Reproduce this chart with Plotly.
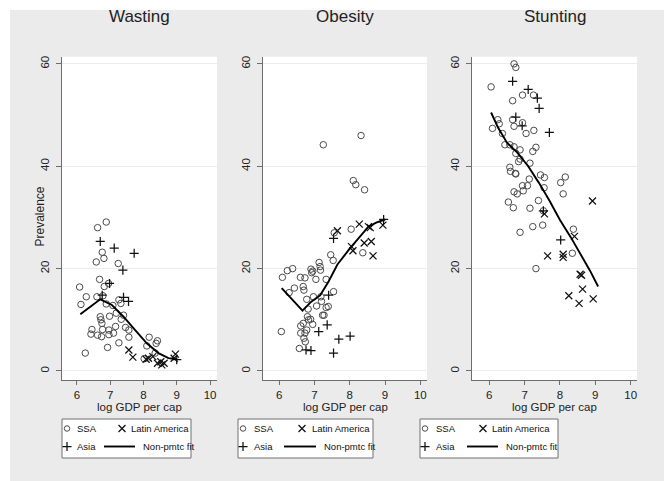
import plotly.graph_objects as go

# ---------------- data ----------------
# Wasting
wast_ssa_x = [6.08, 6.12, 6.28, 6.25, 6.45, 6.42, 6.62, 6.88, 6.58, 6.76, 6.81, 6.68, 6.82, 6.95,
              6.60, 6.78, 6.88, 6.70, 6.72, 6.75, 6.77, 6.62, 6.74, 6.98, 6.96, 6.96, 7.10, 7.16,
              7.08, 7.18, 7.24, 7.26, 7.32, 7.33, 7.40, 7.46, 7.56, 7.56, 7.26, 6.92, 8.17, 8.10,
              8.38, 8.42, 8.02, 8.35]
wast_ssa_y = [16.4, 13.0, 14.5, 3.5, 8.1, 7.2, 28.0, 29.1, 21.3, 23.2, 22.0, 17.9, 16.5, 17.1,
              14.5, 14.7, 13.1, 10.6, 10.0, 9.3, 8.1, 7.0, 6.7, 10.7, 8.0, 7.1, 7.4, 8.7,
              12.8, 11.3, 21.0, 13.9, 13.2, 10.1, 10.9, 8.5, 8.0, 6.6, 5.5, 4.6, 6.6, 4.9,
              5.4, 5.9, 2.4, 3.5]
wast_asia_x = [6.70, 7.12, 7.72, 7.38, 6.98, 7.40, 7.55, 6.76, 9.00]
wast_asia_y = [25.3, 24.0, 23.0, 19.7, 17.1, 14.4, 13.6, 14.8, 2.2]
wast_lat_x = [7.56, 7.68, 8.08, 8.15, 8.28, 8.42, 8.52, 8.62, 8.55, 8.96, 8.92]
wast_lat_y = [4.1, 2.7, 2.3, 2.5, 2.8, 1.5, 1.8, 1.5, 1.2, 3.3, 2.5]
wast_fit_x = [6.10, 6.40, 6.70, 7.05, 7.40, 7.75, 8.10, 8.45, 8.75, 9.00]
wast_fit_y = [11.1, 12.5, 14.0, 12.9, 10.6, 8.0, 5.4, 3.5, 2.5, 2.3]

# Obesity
obes_ssa_x = [7.25, 8.32, 8.10, 8.17, 8.42, 8.04, 8.37, 7.56, 6.09, 6.23, 6.38, 6.28, 6.43, 6.60,
              6.73, 6.68, 6.70, 6.90, 6.92, 6.95, 7.04, 7.13, 7.16, 7.17, 7.46, 7.53, 7.54, 7.33,
              6.78, 6.97, 7.18, 7.06, 7.20, 7.33, 7.39, 7.23, 7.27, 6.80, 6.83, 6.89, 6.82, 6.61,
              6.68, 6.95, 6.78, 6.73, 6.61, 6.70, 6.74, 6.57, 6.06]
obes_ssa_y = [44.2, 46.0, 37.2, 36.4, 35.4, 27.7, 23.1, 27.0, 18.3, 19.6, 20.0, 15.3, 16.2, 18.3,
              18.2, 16.5, 15.8, 19.9, 19.2, 19.5, 17.9, 21.2, 20.4, 19.7, 22.7, 21.6, 15.5, 17.9,
              14.0, 14.5, 14.5, 12.7, 13.6, 12.4, 12.6, 10.9, 10.9, 10.6, 10.0, 10.1, 12.1, 8.8,
              9.3, 9.1, 8.0, 7.4, 7.4, 6.4, 5.7, 4.4, 7.7]
obes_asia_x = [6.76, 6.90, 7.12, 7.36, 7.69, 8.01, 7.54, 7.40, 7.54, 8.96]
obes_asia_y = [4.1, 4.0, 7.7, 9.0, 6.2, 6.8, 3.5, 14.8, 25.9, 29.6]
obes_lat_x = [7.65, 8.27, 8.05, 8.09, 8.41, 8.61, 8.66, 8.58, 8.94, 8.53]
obes_lat_y = [27.4, 28.7, 24.3, 23.5, 25.0, 25.3, 22.5, 28.0, 28.5, 28.2]
obes_fit_x = [6.07, 6.36, 6.66, 6.90, 7.16, 7.40, 7.65, 8.01, 8.29, 8.53, 8.75, 9.00]
obes_fit_y = [16.2, 14.0, 11.8, 13.5, 14.8, 17.5, 20.8, 24.0, 26.3, 28.2, 29.0, 29.6]

# Stunting
stun_ssa_x = [6.05, 6.09, 6.24, 6.28, 6.37, 6.44, 6.58, 6.70, 6.75, 6.66, 6.94, 7.25, 6.66, 6.70,
              6.94, 7.04, 7.26, 6.70, 6.75, 6.87, 6.87, 6.83, 7.23, 7.32, 7.15, 6.58, 6.60, 6.74,
              6.75, 6.94, 7.08, 7.13, 6.96, 6.70, 6.79, 6.54, 6.68, 7.15, 7.39, 7.45, 7.56, 7.55,
              8.02, 8.15, 8.09, 6.87, 7.23, 7.51, 7.32, 8.38, 8.35, 7.53]
stun_ssa_y = [55.5, 47.4, 49.1, 48.3, 46.4, 44.2, 44.2, 60.0, 59.3, 52.8, 53.9, 53.9, 49.1, 47.8,
              48.5, 46.4, 47.0, 43.8, 42.5, 43.2, 41.4, 40.9, 42.9, 43.7, 40.6, 39.8, 39.0, 38.6,
              38.5, 36.2, 36.2, 37.5, 35.2, 35.0, 34.6, 33.0, 31.9, 31.8, 33.3, 38.3, 37.8, 35.8,
              36.8, 37.9, 34.6, 27.1, 28.2, 28.5, 20.0, 27.7, 23.0, 31.3]
stun_asia_x = [6.66, 7.10, 7.36, 7.41, 7.70, 6.75, 6.93, 7.53, 8.02]
stun_asia_y = [56.6, 55.0, 53.3, 51.3, 46.6, 49.6, 47.9, 31.3, 25.6]
stun_lat_x = [8.92, 7.56, 7.65, 8.09, 8.09, 8.41, 8.57, 8.61, 8.64, 8.25, 8.54, 8.94]
stun_lat_y = [33.2, 30.7, 22.5, 22.8, 22.2, 26.3, 18.9, 18.7, 16.0, 14.7, 13.2, 14.1]
stun_fit_x = [6.05, 6.25, 6.50, 6.80, 7.10, 7.40, 7.70, 8.00, 8.30, 8.60, 8.85, 9.08]
stun_fit_y = [50.5, 47.5, 44.6, 42.6, 40.0, 36.8, 33.3, 29.5, 26.2, 22.6, 19.6, 16.5]

titles = ["Wasting", "Obesity", "Stunting"]
y_ticks = [0, 20, 40, 60]
x_ticks = [6, 7, 8, 9, 10]
legend_labels = ["SSA", "Latin America", "Asia", "Non-pmtc fit"]

panels = [
    (wast_ssa_x, wast_ssa_y, wast_lat_x, wast_lat_y, wast_asia_x, wast_asia_y, wast_fit_x, wast_fit_y),
    (obes_ssa_x, obes_ssa_y, obes_lat_x, obes_lat_y, obes_asia_x, obes_asia_y, obes_fit_x, obes_fit_y),
    (stun_ssa_x, stun_ssa_y, stun_lat_x, stun_lat_y, stun_asia_x, stun_asia_y, stun_fit_x, stun_fit_y),
]

# ---------------- layout geometry (pixels) ----------------
W, H = 664, 481
px_left = [62, 263, 472]
px_right = [217, 427, 637]
x_ranges = [[5.55, 10.21], [5.54, 10.19], [5.51, 10.18]]
y_bottom, y_top = 380, 56.7
y_range = [-1.76, 61.4]

FONT = "Liberation Sans, Arial, sans-serif"
TXT = "#222222"
AX = "#6e6e6e"
MK = "#4a4a4a"

CIRC = dict(symbol="circle-open", size=6.5, color=MK, line=dict(width=1, color=MK))
XMK = dict(symbol="x-thin-open", size=7, color="#111", line=dict(width=1.25, color="#111"))
PMK = dict(symbol="cross-thin-open", size=6.5, color="#111", line=dict(width=1.25, color="#111"))

fig = go.Figure()
layout = dict(
    width=W, height=H,
    margin=dict(l=0, r=0, t=0, b=0),
    paper_bgcolor="white",
    plot_bgcolor="rgba(0,0,0,0)",
    showlegend=False,
    font=dict(family=FONT, color=TXT, size=12),
)

# grey graph region, then white plot regions on top of it
shapes = [dict(type="rect", xref="paper", yref="paper",
               x0=10 / W, x1=1.0, y0=0.0, y1=1 - 10 / H,
               fillcolor="#ebebeb", line=dict(width=0), layer="below")]
annotations = []


def px_x(p):
    return p / W


def px_y(p):
    return 1 - p / H


for i, (sx, sy, lx, ly, ax_, ay, fx, fy) in enumerate(panels):
    n = "" if i == 0 else str(i + 1)
    xa, ya = "x" + n, "y" + n
    fig.add_trace(go.Scatter(x=sx, y=sy, mode="markers", xaxis=xa, yaxis=ya, name="SSA", marker=CIRC))
    fig.add_trace(go.Scatter(x=lx, y=ly, mode="markers", xaxis=xa, yaxis=ya, name="Latin America", marker=XMK))
    fig.add_trace(go.Scatter(x=ax_, y=ay, mode="markers", xaxis=xa, yaxis=ya, name="Asia", marker=PMK))
    fig.add_trace(go.Scatter(x=fx, y=fy, mode="lines", xaxis=xa, yaxis=ya, name="Non-pmtc fit",
                             line=dict(color="#000", width=1.9)))

    layout["xaxis" + n] = dict(
        domain=[px_x(px_left[i]), px_x(px_right[i])], range=x_ranges[i], anchor=ya,
        tickvals=x_ticks, ticks="outside", ticklen=4, tickcolor=AX, showline=True,
        linecolor=AX, linewidth=1, showgrid=False, zeroline=False,
        tickfont=dict(size=11.5, color=TXT),
    )
    layout["yaxis" + n] = dict(
        domain=[px_y(y_bottom), px_y(y_top)], range=y_range, anchor=xa,
        tickvals=y_ticks, ticks="outside", ticklen=5, tickcolor=AX, showline=True,
        linecolor=AX, linewidth=1, showgrid=True, gridcolor="#ececec", gridwidth=1,
        zeroline=False, tickangle=-90, tickfont=dict(size=11.5, color=TXT),
        ticklabelstandoff=2,
    )
    shapes.append(dict(type="rect", xref="paper", yref="paper",
                       x0=px_x(px_left[i]), x1=px_x(px_right[i]), y0=px_y(y_bottom), y1=px_y(y_top),
                       fillcolor="white", line=dict(width=0), layer="below"))

    cx = (px_left[i] + px_right[i]) / 2
    annotations.append(dict(text=titles[i], x=px_x(cx), y=px_y(17), xref="paper", yref="paper",
                            showarrow=False, font=dict(size=17, color=TXT), xanchor="center", yanchor="middle"))
    annotations.append(dict(text="log GDP per cap", x=px_x(cx), y=px_y(407), xref="paper", yref="paper",
                            showarrow=False, font=dict(size=11.5, color=TXT), xanchor="center", yanchor="middle"))

annotations.append(dict(text="Prevalence", x=px_x(39.5), y=px_y(217), xref="paper", yref="paper",
                        showarrow=False, textangle=-90, font=dict(size=12, color=TXT),
                        xanchor="center", yanchor="middle"))

# ---------------- per-panel legend boxes ----------------
leg = [
    dict(b0=62, b1=191, k1=67, t1=75, k2=122, t2=129, l0=104, l1=135, t3=141),
    dict(b0=238, b1=373, k1=243, t1=252, k2=302, t2=310, l0=284, l1=316, t3=322),
    dict(b0=420, b1=558, k1=425, t1=434, k2=483, t2=490, l0=467, l1=498, t3=504),
]
row1, row2 = 428.5, 446.5
LFONT = dict(family=FONT, size=9.5, color="#111")

key_circ_x, key_circ_y = [], []
key_x_x, key_x_y = [], []
key_p_x, key_p_y = [], []
for g in leg:
    shapes.append(dict(type="rect", xref="paper", yref="paper",
                       x0=px_x(g["b0"]), x1=px_x(g["b1"]), y0=px_y(458), y1=px_y(419),
                       fillcolor="white", line=dict(color="#707070", width=1), layer="below"))
    shapes.append(dict(type="line", xref="paper", yref="paper",
                       x0=px_x(g["l0"]), x1=px_x(g["l1"]), y0=px_y(row2), y1=px_y(row2),
                       line=dict(color="#000", width=1.9)))
    key_circ_x.append(g["k1"]); key_circ_y.append(row1)
    key_p_x.append(g["k1"]); key_p_y.append(row2)
    key_x_x.append(g["k2"]); key_x_y.append(row1)
    for txt, x, y in [(legend_labels[0], g["t1"], row1), (legend_labels[1], g["t2"], row1),
                      (legend_labels[2], g["t1"], row2), (legend_labels[3], g["t3"], row2)]:
        annotations.append(dict(text=txt, x=px_x(x), y=px_y(y), xref="paper", yref="paper",
                                showarrow=False, font=LFONT, xanchor="left", yanchor="middle"))

# overlay axes in pixel units for the legend keys
layout["xaxis4"] = dict(domain=[0, 1], range=[0, W], visible=False, anchor="y4", fixedrange=True)
layout["yaxis4"] = dict(domain=[0, 1], range=[H, 0], visible=False, anchor="x4", fixedrange=True)
fig.add_trace(go.Scatter(x=key_circ_x, y=key_circ_y, mode="markers", xaxis="x4", yaxis="y4",
                         marker=dict(CIRC, size=5.5), hoverinfo="skip"))
fig.add_trace(go.Scatter(x=key_x_x, y=key_x_y, mode="markers", xaxis="x4", yaxis="y4",
                         marker=XMK, hoverinfo="skip"))
fig.add_trace(go.Scatter(x=key_p_x, y=key_p_y, mode="markers", xaxis="x4", yaxis="y4",
                         marker=PMK, hoverinfo="skip"))

layout["shapes"] = shapes
layout["annotations"] = annotations
fig.update_layout(**layout)
fig.write_html("out.html")
